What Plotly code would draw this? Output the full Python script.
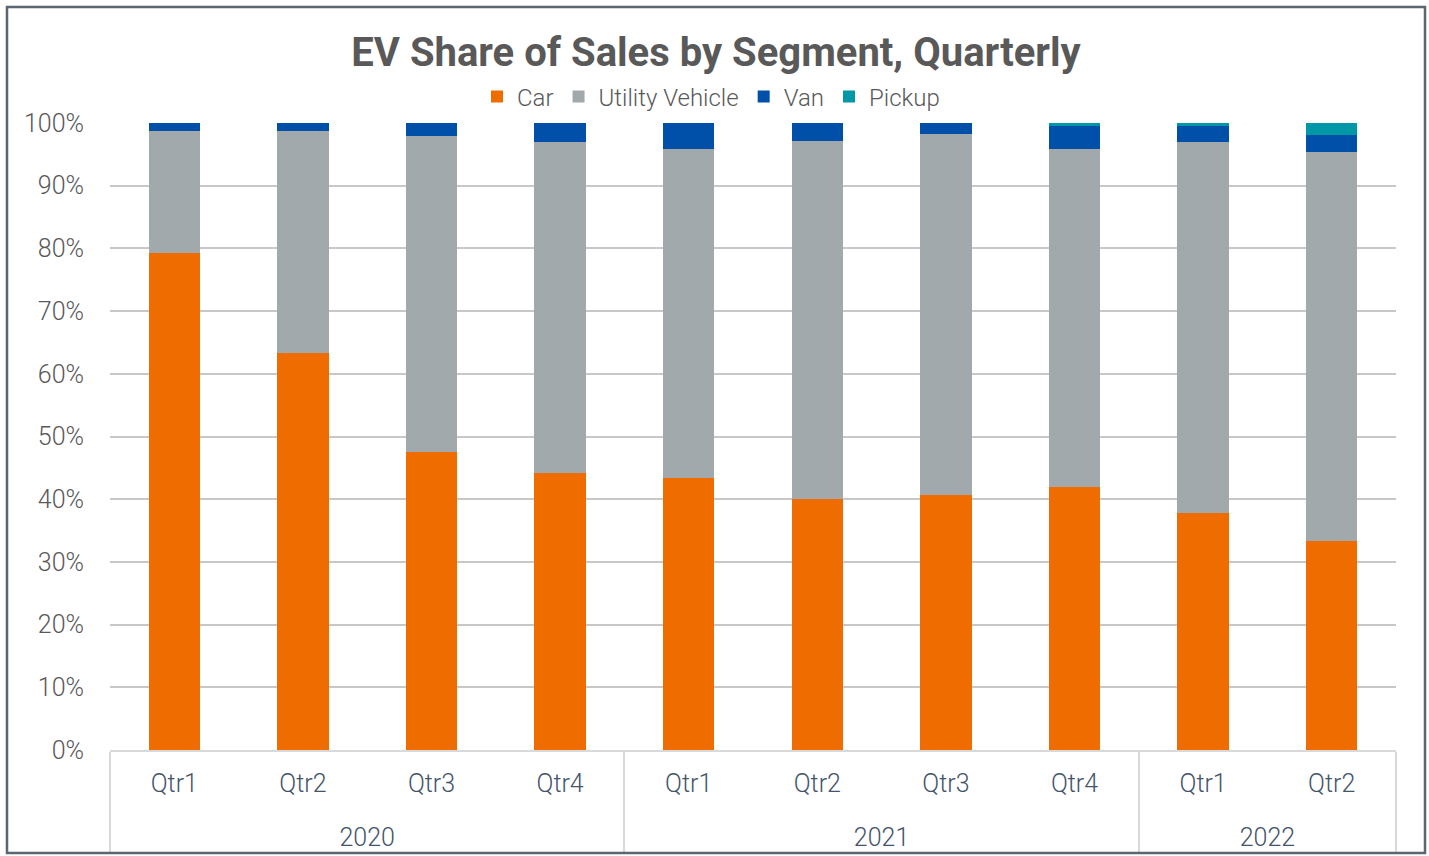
import plotly.graph_objects as go

years = ["2020", "2020", "2020", "2020", "2021", "2021", "2021", "2021", "2022", "2022"]
quarters = ["Qtr1", "Qtr2", "Qtr3", "Qtr4", "Qtr1", "Qtr2", "Qtr3", "Qtr4", "Qtr1", "Qtr2"]

car = [79.3, 63.3, 47.5, 44.2, 43.4, 40.0, 40.7, 41.9, 37.8, 33.3]
utility = [19.4, 35.5, 50.5, 52.7, 52.5, 57.1, 57.5, 54.0, 59.2, 62.1]
van = [1.3, 1.2, 2.0, 3.1, 4.1, 2.9, 1.8, 3.7, 2.6, 2.7]
pickup = [0.0, 0.0, 0.0, 0.0, 0.0, 0.0, 0.0, 0.4, 0.4, 1.9]

series = [
    ("Car", car, "#EF6C00"),
    ("Utility Vehicle", utility, "#A2A9AC"),
    ("Van", van, "#0050AA"),
    ("Pickup", pickup, "#0097A7"),
]

# blank first line pushes the year row further below the quarter row
year_labels = ["<br>" + y for y in years]

fig = go.Figure()
for name, vals, col in series:
    fig.add_trace(go.Bar(x=[year_labels, quarters], y=vals, name=name, marker_color=col,
                         marker_line_width=0))

fig.update_layout(
    barmode="stack", bargap=0.6,
    width=1429, height=856,
    margin=dict(l=110, r=33, t=123, b=106),
    paper_bgcolor="white", plot_bgcolor="white",
    font=dict(family="Roboto", color="#595959"),
    title=dict(text="<b>EV Share of Sales by Segment, Quarterly</b>", x=(716 - 110) / 1286,
               xref="paper", xanchor="center",
               y=1 - 52 / 856, yanchor="middle", font=dict(size=40, color="#595959")),
    legend=dict(orientation="h", x=(711 - 110) / 1286, xanchor="center", y=(750 - 97) / 627,
                yanchor="middle", font=dict(size=24, color="#595959", weight=300),
                traceorder="normal", itemwidth=30, itemsizing="constant"),
    showlegend=True,
)
fig.update_yaxes(range=[0, 100], dtick=10, ticksuffix="%", showgrid=True, gridcolor="#C8C8C8",
                 gridwidth=1.5, zeroline=False, tickfont=dict(size=25, color="#595959", weight=300),
                 ticks="outside", ticklen=20, tickcolor="rgba(0,0,0,0)", automargin=False)
fig.update_xaxes(showline=True, linecolor="#D9D9D9", linewidth=2, showdividers=True,
                 dividercolor="#D9D9D9", dividerwidth=2,
                 tickfont=dict(size=25, color="#44546A", weight=300),
                 ticklabelstandoff=10, automargin=False)

fig.add_shape(type="rect", xref="paper", yref="paper",
              x0=(7 - 110) / 1286, x1=(1425 - 110) / 1286,
              y0=(750 - 853) / 627, y1=(750 - 7) / 627,
              line=dict(color="#5A6670", width=2.5), fillcolor="rgba(0,0,0,0)")

fig.write_html("out.html", config={"displayModeBar": False},
               post_script="document.body.style.margin='0';")
